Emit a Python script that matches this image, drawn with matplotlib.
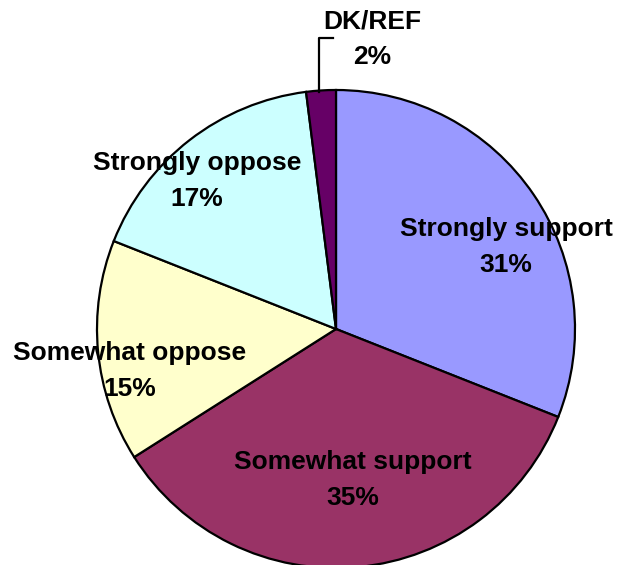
import matplotlib.pyplot as plt

# --- Data ---
labels = ['Strongly support', 'Somewhat support', 'Somewhat oppose',
          'Strongly oppose', 'DK/REF']
values = [31, 35, 15, 17, 2]
colors = ['#9999FF', '#993366', '#FFFFCC', '#CCFFFF', '#660066']

W, H = 617, 565

# label anchor points in pixel space (x, y from top)
label_pos = [(506, 247), (353, 480), (130, 371), (197, 181), (372, 39)]

fig = plt.figure(figsize=(W / 100, H / 100), dpi=100)
fig.patch.set_facecolor('white')
ax = fig.add_axes([0, 0, 1, 1])

ax.pie(values, colors=colors, startangle=90, counterclock=False,
       center=(336, H - 329), radius=239, frame=True,
       wedgeprops=dict(edgecolor='black', linewidth=1.6))
ax.set_xlim(0, W)
ax.set_ylim(0, H)
ax.set_aspect('equal')
ax.axis('off')

for lab, val, (px, py) in zip(labels, values, label_pos):
    ax.text(px, H - py, f'{lab}\n{val}%', ha='center', va='center',
            fontsize=19, fontweight='bold', family='Liberation Sans',
            linespacing=1.6, color='black')

# leader line for the small DK/REF slice
ax.plot([319, 319, 333], [H - 92, H - 38, H - 38], color='black', lw=1.6)

fig.savefig('out.png', dpi=100)
